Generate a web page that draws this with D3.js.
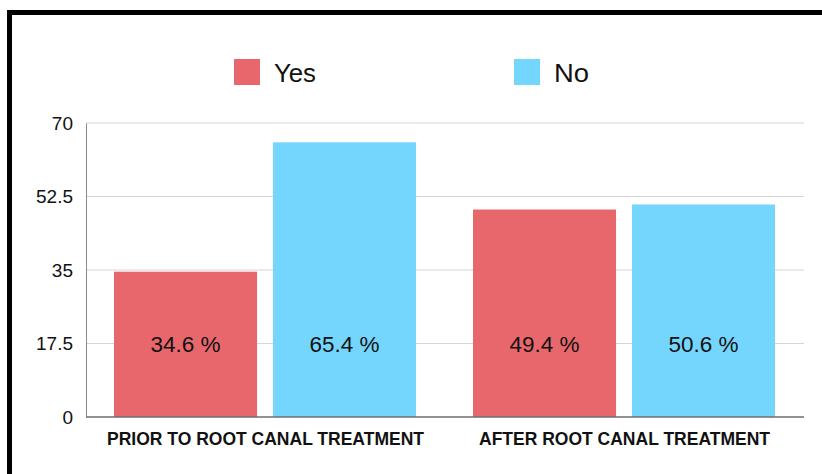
<!DOCTYPE html>
<html>
<head>
<meta charset="utf-8">
<script src="https://cdn.jsdelivr.net/npm/d3@7"></script>
<style>
  html, body { margin: 0; padding: 0; background: #fff; }
  svg { display: block; font-family: "Liberation Sans", Arial, Helvetica, sans-serif; }
</style>
</head>
<body>
<svg id="chart" width="822" height="474"></svg>
<script>
// Share of patients answering Yes / No, before and after root canal treatment
const categories = ["PRIOR TO ROOT CANAL TREATMENT", "AFTER ROOT CANAL TREATMENT"];
const seriesNames = ["Yes", "No"];
const yesValues = [34.6, 49.4];
const noValues = [65.4, 50.6];
const yTicks = [0, 17.5, 35, 52.5, 70];
const colors = ["#E8676C", "#74D5FD"];

const svg = d3.select("#chart");
const W = 822, H = 474;
const margin = { left: 86, right: 18, top: 123, bottom: 57 };
const plotW = W - margin.left - margin.right;
const plotH = H - margin.top - margin.bottom;

// Frame around the chart
svg.append("line").attr("x1", 7).attr("x2", W).attr("y1", 12.5).attr("y2", 12.5)
  .attr("stroke", "#000").attr("stroke-width", 5);
svg.append("line").attr("x1", 9.5).attr("x2", 9.5).attr("y1", 10).attr("y2", H)
  .attr("stroke", "#000").attr("stroke-width", 5);

const g = svg.append("g").attr("transform", `translate(${margin.left},${margin.top})`);

const x0 = d3.scaleBand().domain(categories).range([0, plotW]).paddingInner(0).paddingOuter(0);
const x1 = d3.scaleBand().domain(seriesNames).range([28, x0.bandwidth() - 29]).paddingInner(0.1);
const y = d3.scaleLinear().domain([0, 70]).range([plotH, 0]);

// Gridlines
g.append("g").selectAll("line").data(yTicks.filter(t => t > 0)).join("line")
  .attr("x1", 0).attr("x2", plotW)
  .attr("y1", d => y(d)).attr("y2", d => y(d))
  .attr("stroke", "#d6d6d6").attr("stroke-width", 1);

// Y axis
const yAxis = g.append("g").call(d3.axisLeft(y).tickValues(yTicks).tickSize(0).tickPadding(13).tickFormat(d => String(d)));
yAxis.select(".domain").attr("stroke", "#8a8a8a");
yAxis.selectAll("text").attr("font-size", 19).attr("fill", "#111")
  .attr("font-family", "'Liberation Sans', Arial, sans-serif");

// Bars
const rows = categories.map((c, i) => ({ cat: c, vals: [yesValues[i], noValues[i]] }));
const groups = g.selectAll(".grp").data(rows).join("g")
  .attr("transform", d => `translate(${x0(d.cat)},0)`);

groups.selectAll("rect").data(d => d.vals.map((v, j) => ({ key: seriesNames[j], v, j }))).join("rect")
  .attr("x", d => x1(d.key))
  .attr("width", x1.bandwidth())
  .attr("y", d => y(d.v))
  .attr("height", d => plotH - y(d.v))
  .attr("fill", d => colors[d.j]);

groups.selectAll("text.val").data(d => d.vals.map((v, j) => ({ key: seriesNames[j], v, j }))).join("text")
  .attr("class", "val")
  .attr("x", d => x1(d.key) + x1.bandwidth() / 2)
  .attr("y", y(17.5))
  .attr("dy", "0.36em")
  .attr("text-anchor", "middle")
  .attr("font-size", 22.5)
  .attr("fill", "#111")
  .text(d => d.v.toFixed(1) + " %");

// Baseline
g.append("line").attr("x1", 0).attr("x2", plotW).attr("y1", plotH).attr("y2", plotH)
  .attr("stroke", "#6e6e6e").attr("stroke-width", 1.5);

// Category labels (condensed bold)
const catWidths = [317, 291];
g.selectAll("text.cat").data(categories).join("text")
  .attr("class", "cat")
  .attr("x", d => x0(d) + x0.bandwidth() / 2)
  .attr("y", plotH + 28)
  .attr("text-anchor", "middle")
  .attr("font-size", 18.5)
  .attr("font-weight", "bold")
  .attr("fill", "#111")
  .attr("textLength", (d, i) => catWidths[i])
  .attr("lengthAdjust", "spacingAndGlyphs")
  .text(d => d);

// Legend
const legend = svg.append("g");
const legendX = [234, 514];
seriesNames.forEach((s, i) => {
  legend.append("rect").attr("x", legendX[i]).attr("y", 59).attr("width", 26).attr("height", 26)
    .attr("fill", colors[i]);
  legend.append("text").attr("x", legendX[i] + 40).attr("y", 82)
    .attr("font-size", 26).attr("fill", "#111")
    .attr("textLength", i === 0 ? 42 : 35)
    .attr("lengthAdjust", "spacingAndGlyphs")
    .text(s);
});
</script>
</body>
</html>
